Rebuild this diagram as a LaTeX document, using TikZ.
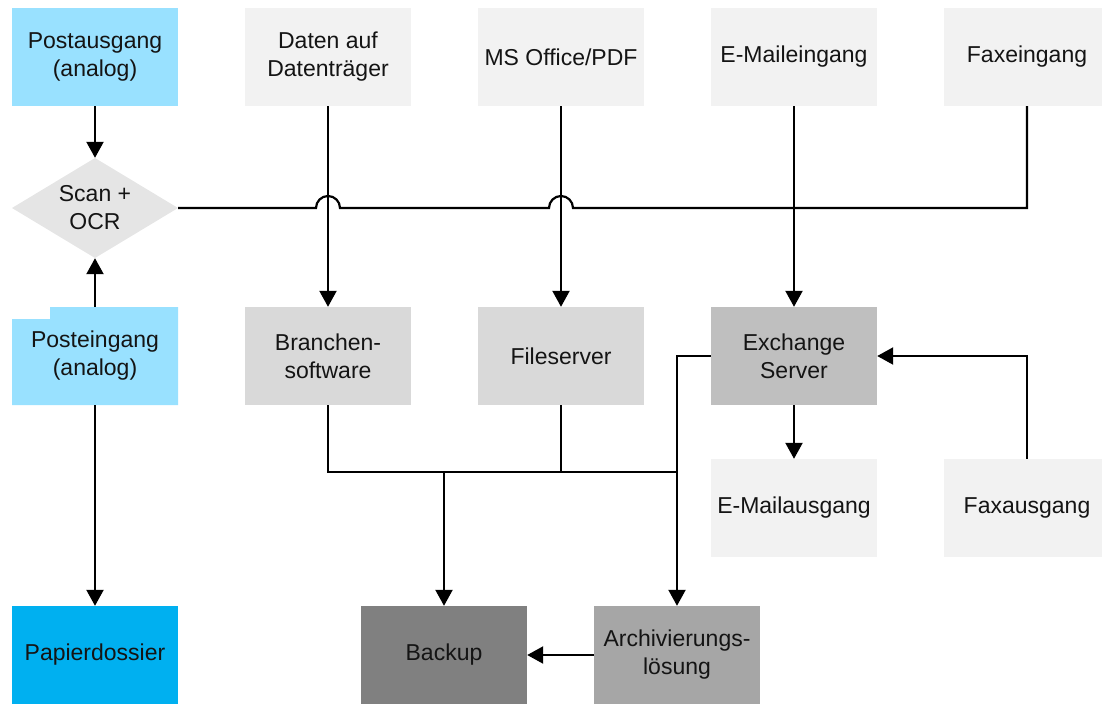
\documentclass[tikz,border=0pt]{standalone}
\usepackage{fontspec}
\setmainfont{Liberation Sans}
\usetikzlibrary{arrows.meta,calc}
\definecolor{postblue}{RGB}{153,225,255}
\definecolor{dossierblue}{RGB}{0,176,240}
\definecolor{lightgray}{RGB}{242,242,242}
\definecolor{midgray}{RGB}{217,217,217}
\definecolor{exgray}{RGB}{191,191,191}
\definecolor{argray}{RGB}{166,166,166}
\definecolor{bkgray}{RGB}{128,128,128}
\definecolor{diagray}{RGB}{229,229,229}
\definecolor{txtcol}{RGB}{20,20,20}
\tikzset{
  box/.style={rectangle, inner sep=0pt, minimum width=166pt, minimum height=98pt,
    align=center, text=txtcol, font=\fontsize{23}{28}\selectfont},
  conn/.style={line width=2.2pt, draw=black},
  arr/.style={conn, -{Triangle[length=16pt,width=17pt]}},
}
\begin{document}
\begin{tikzpicture}[x=1pt,y=-1pt]
\useasboundingbox (0,0) rectangle (1102,704);
\clip (0,0) rectangle (1102,704);
% top row
\node[box, fill=postblue] (paus) at (95,57) {Postausgang\\(analog)};
\node[box, fill=lightgray] (daten) at (328,57) {Daten auf\\Datenträger};
\node[box, fill=lightgray] (ms) at (561,57) {MS Office/PDF};
\node[box, fill=lightgray] (mailin) at (794,57) {E-Maileingang};
\node[box, fill=lightgray] (faxin) at (1027,57) {Faxeingang};
% diamond
\fill[diagray] (12,208) -- (95,158) -- (178,208) -- (95,258) -- cycle;
\node[box, minimum height=100pt] (scan) at (95,208) {Scan +\\OCR};
% Posteingang with notch
\fill[postblue] (12,319) -- (50,319) -- (50,307) -- (178,307) -- (178,405) -- (12,405) -- cycle;
\node[box] (pein) at (95,356) {Posteingang\\(analog)};
% middle row
\node[box, fill=midgray] (bran) at (328,356) {Branchen-\\software};
\node[box, fill=midgray] (file) at (561,356) {Fileserver};
\node[box, fill=exgray] (exch) at (794,356) {Exchange\\Server};
% lower row
\node[box, fill=lightgray] (mailout) at (794,508) {E-Mailausgang};
\node[box, fill=lightgray] (faxout) at (1027,508) {Faxausgang};
% bottom row
\node[box, fill=dossierblue] (dossier) at (95,655) {Papierdossier};
\node[box, fill=bkgray] (backup) at (444,655) {Backup};
\node[box, fill=argray] (arch) at (677,655) {Archivierungs-\\lösung};
\coordinate (bus) at (0,472);
% connectors
\draw[arr] (paus.south) -- (scan.north);
\draw[arr] (pein.north) -- (scan.south);
\draw[arr] (pein.south) -- (dossier.north);
\draw[conn] (scan.east) -- ($(daten.south |- scan.east)+(-12,0)$)
  arc[start angle=180, end angle=360, radius=12]
  -- ($(ms.south |- scan.east)+(-12,0)$)
  arc[start angle=180, end angle=360, radius=12]
  -- (faxin.south |- scan.east) -- (faxin.south);
\draw[arr] (daten.south) -- (bran.north);
\draw[arr] (ms.south) -- (file.north);
\draw[arr] (mailin.south) -- (exch.north);
\draw[arr] (exch.south) -- (mailout.north);
\draw[arr] (faxout.north) |- (exch.east);
\draw[conn] (bran.south) |- (arch.north |- bus);
\draw[conn] (file.south) -- (file.south |- bus);
\draw[arr] (exch.west) -| (arch.north);
\draw[arr] (backup.north |- bus) -- (backup.north);
\draw[arr] (arch.west) -- (backup.east);
\end{tikzpicture}
\end{document}
